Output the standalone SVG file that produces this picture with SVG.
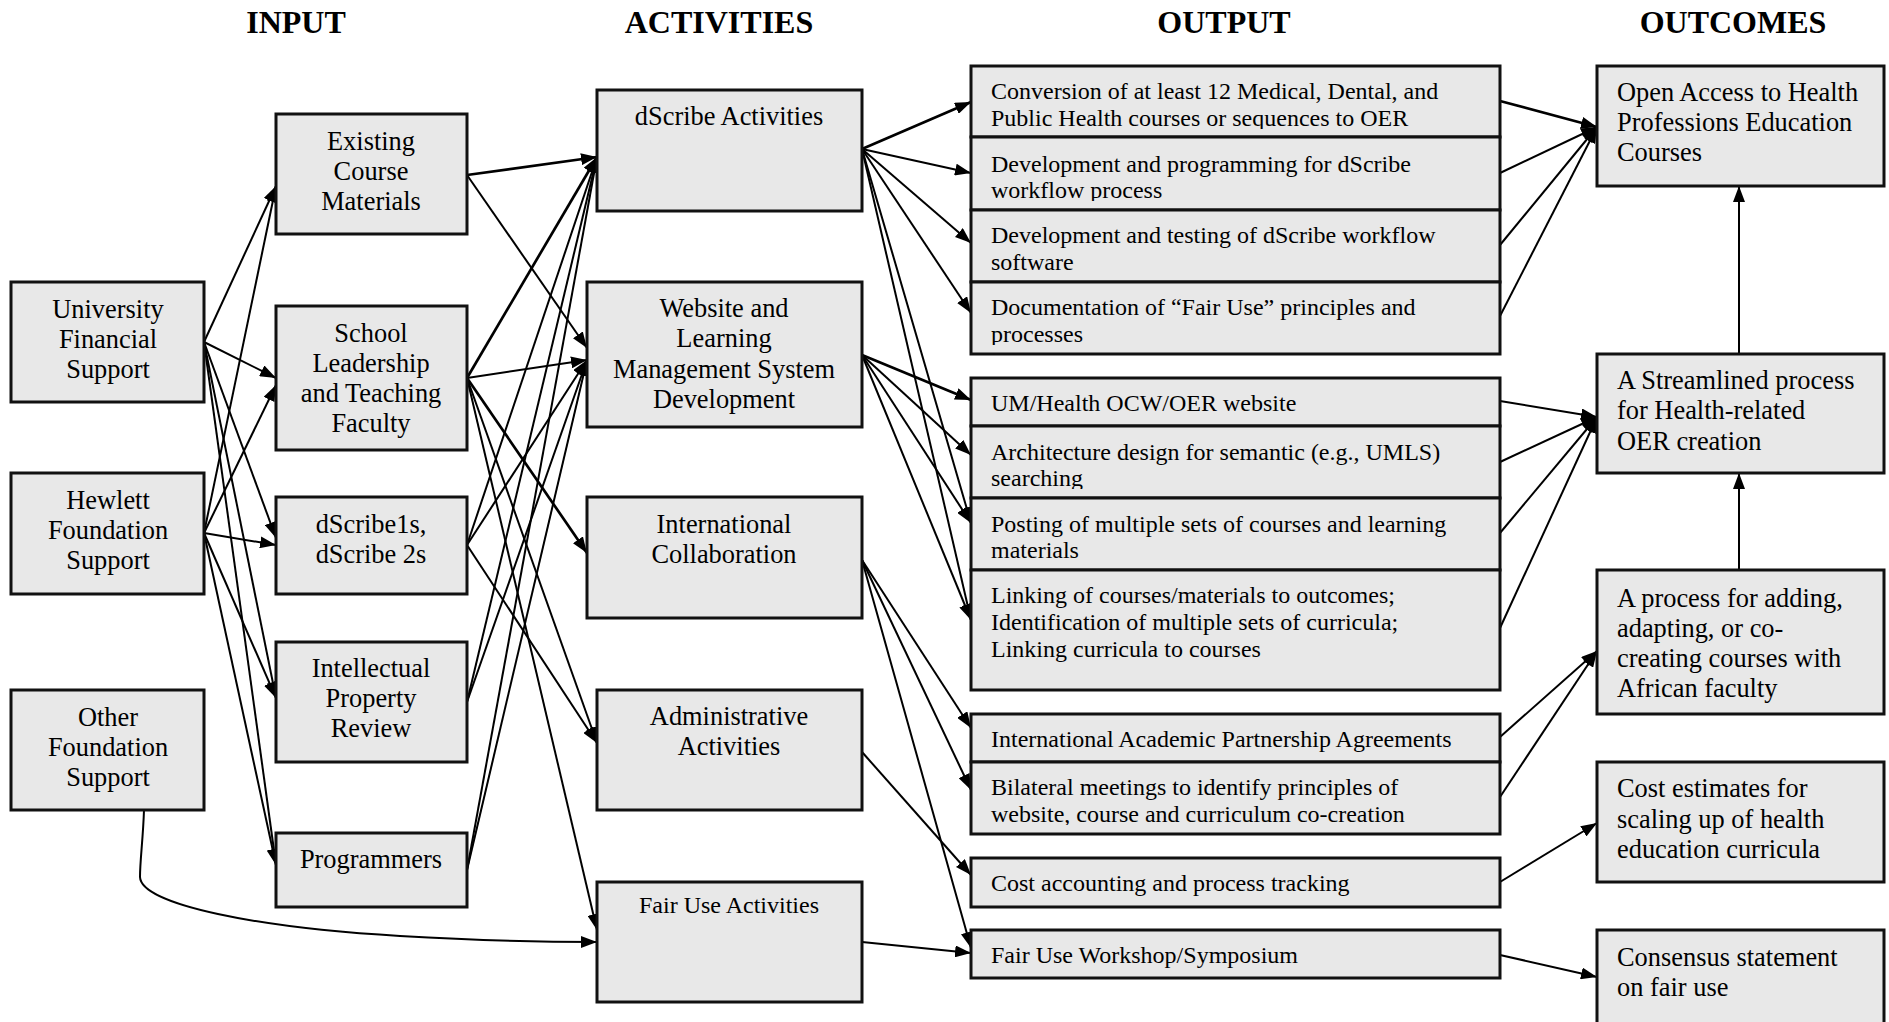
<svg xmlns="http://www.w3.org/2000/svg" width="1889" height="1022" viewBox="0 0 1889 1022">
<style>
.bx{fill:#e8e8e8;stroke:#111;stroke-width:3}
.t{font-family:"Liberation Serif","Times New Roman",serif;font-size:26.4px;fill:#000}
.c{text-anchor:middle}
.s{font-family:"Liberation Serif","Times New Roman",serif;font-size:24px;fill:#000}
.h{font-family:"Liberation Serif","Times New Roman",serif;font-size:32px;font-weight:bold;text-anchor:middle;fill:#000}
.ln{fill:none;stroke:#000;stroke-width:2;marker-end:url(#ah)}
.tk{stroke-width:2.7}
</style>
<defs>
<marker id="ah" markerUnits="userSpaceOnUse" markerWidth="16" markerHeight="12" refX="16" refY="6" orient="auto">
<path d="M0,0 L16,6 L0,12 z" fill="#000"/>
</marker>
<clipPath id="cl1"><rect x="971" y="66" width="529" height="63"/></clipPath>
<clipPath id="cl2"><rect x="971" y="137" width="529" height="64"/></clipPath>
<clipPath id="cl4"><rect x="971" y="282" width="529" height="63"/></clipPath>
<clipPath id="cl6"><rect x="971" y="426" width="529" height="63"/></clipPath>
<clipPath id="cl10"><rect x="971" y="762" width="529" height="63"/></clipPath>
</defs>

<g id="titles">
<text class="h" x="296" y="33">INPUT</text>
<text class="h" x="719" y="33">ACTIVITIES</text>
<text class="h" x="1224" y="33">OUTPUT</text>
<text class="h" x="1733" y="33">OUTCOMES</text>
</g>

<g id="connectors">
<line class="ln" x1="204" y1="342" x2="276" y2="186"/>
<line class="ln" x1="204" y1="342" x2="276" y2="378"/>
<line class="ln" x1="204" y1="342" x2="276" y2="538"/>
<line class="ln" x1="204" y1="342" x2="276" y2="698"/>
<line class="ln" x1="204" y1="342" x2="276" y2="865"/>
<line class="ln" x1="204" y1="533" x2="276" y2="186"/>
<line class="ln" x1="204" y1="533" x2="276" y2="385"/>
<line class="ln" x1="204" y1="533" x2="276" y2="545"/>
<line class="ln" x1="204" y1="533" x2="276" y2="698"/>
<line class="ln" x1="204" y1="533" x2="276" y2="865"/>

<line class="ln tk" x1="467" y1="175" x2="597" y2="157"/>
<line class="ln" x1="467" y1="175" x2="587" y2="348"/>
<line class="ln tk" x1="467" y1="378" x2="597" y2="157"/>
<line class="ln" x1="467" y1="378" x2="587" y2="360"/>
<line class="ln tk" x1="467" y1="378" x2="587" y2="553"/>
<line class="ln" x1="467" y1="378" x2="597" y2="743"/>
<line class="ln" x1="467" y1="378" x2="597" y2="930"/>
<line class="ln" x1="467" y1="545" x2="597" y2="157"/>
<line class="ln" x1="467" y1="545" x2="587" y2="360"/>
<line class="ln" x1="467" y1="545" x2="597" y2="743"/>
<line class="ln" x1="467" y1="702" x2="597" y2="157"/>
<line class="ln" x1="467" y1="702" x2="587" y2="360"/>
<line class="ln" x1="467" y1="870" x2="597" y2="157"/>
<line class="ln" x1="467" y1="870" x2="587" y2="360"/>
<path class="ln" d="M144,810 C143,840 140,860 140,877 C141,905 260,928 400,936 C470,940 540,942 597,942"/>

<line class="ln tk" x1="862" y1="149" x2="971" y2="102"/>
<line class="ln" x1="862" y1="149" x2="971" y2="173"/>
<line class="ln" x1="862" y1="149" x2="971" y2="243"/>
<line class="ln" x1="862" y1="149" x2="971" y2="313"/>
<line class="ln" x1="862" y1="149" x2="971" y2="523"/>
<line class="ln" x1="862" y1="149" x2="971" y2="620"/>
<line class="ln tk" x1="862" y1="355" x2="971" y2="400"/>
<line class="ln" x1="862" y1="355" x2="971" y2="455"/>
<line class="ln" x1="862" y1="355" x2="971" y2="523"/>
<line class="ln" x1="862" y1="355" x2="971" y2="620"/>
<line class="ln" x1="862" y1="560" x2="971" y2="728"/>
<line class="ln" x1="862" y1="560" x2="971" y2="790"/>
<line class="ln" x1="862" y1="560" x2="971" y2="948"/>
<line class="ln" x1="862" y1="752" x2="971" y2="875"/>
<line class="ln" x1="862" y1="942" x2="971" y2="953"/>

<line class="ln tk" x1="1500" y1="101" x2="1597" y2="127"/>
<line class="ln" x1="1500" y1="173" x2="1597" y2="127"/>
<line class="ln" x1="1500" y1="245" x2="1597" y2="127"/>
<line class="ln" x1="1500" y1="316" x2="1597" y2="127"/>
<line class="ln" x1="1500" y1="401" x2="1597" y2="417"/>
<line class="ln" x1="1500" y1="462" x2="1597" y2="417"/>
<line class="ln" x1="1500" y1="533" x2="1597" y2="417"/>
<line class="ln" x1="1500" y1="628" x2="1597" y2="417"/>
<line class="ln" x1="1500" y1="737" x2="1597" y2="651"/>
<line class="ln" x1="1500" y1="797" x2="1597" y2="651"/>
<line class="ln" x1="1500" y1="882" x2="1597" y2="823"/>
<line class="ln" x1="1500" y1="955" x2="1597" y2="977"/>
<line class="ln" x1="1739" y1="354" x2="1739" y2="186"/>
<line class="ln" x1="1739" y1="570" x2="1739" y2="473"/>
</g>

<g id="n-university"><rect class="bx" x="11" y="282" width="193" height="120"/>
<text class="t c" x="108" y="318">University</text><text class="t c" x="108" y="348">Financial</text><text class="t c" x="108" y="378">Support</text></g>
<g id="n-hewlett"><rect class="bx" x="11" y="473" width="193" height="121"/>
<text class="t c" x="108" y="509">Hewlett</text><text class="t c" x="108" y="539">Foundation</text><text class="t c" x="108" y="569">Support</text></g>
<g id="n-other"><rect class="bx" x="11" y="690" width="193" height="120"/>
<text class="t c" x="108" y="726">Other</text><text class="t c" x="108" y="756">Foundation</text><text class="t c" x="108" y="786">Support</text></g>

<g id="n-existing"><rect class="bx" x="276" y="114" width="191" height="120"/>
<text class="t c" x="371" y="150">Existing</text><text class="t c" x="371" y="180">Course</text><text class="t c" x="371" y="210">Materials</text></g>
<g id="n-school"><rect class="bx" x="276" y="306" width="191" height="144"/>
<text class="t c" x="371" y="342">School</text><text class="t c" x="371" y="372">Leadership</text><text class="t c" x="371" y="402">and Teaching</text><text class="t c" x="371" y="432">Faculty</text></g>
<g id="n-dscribe1s"><rect class="bx" x="276" y="497" width="191" height="97"/>
<text class="t c" x="371" y="533">dScribe1s,</text><text class="t c" x="371" y="563">dScribe 2s</text></g>
<g id="n-ip"><rect class="bx" x="276" y="642" width="191" height="120"/>
<text class="t c" x="371" y="677">Intellectual</text><text class="t c" x="371" y="707">Property</text><text class="t c" x="371" y="737">Review</text></g>
<g id="n-programmers"><rect class="bx" x="276" y="833" width="191" height="74"/>
<text class="t c" x="371" y="868">Programmers</text></g>

<g id="n-dscribe-act"><rect class="bx" x="597" y="90" width="265" height="121"/>
<text class="t c" x="729" y="125">dScribe Activities</text></g>
<g id="n-website"><rect class="bx" x="587" y="282" width="275" height="145"/>
<text class="t c" x="724" y="317">Website and</text><text class="t c" x="724" y="347">Learning</text><text class="t c" x="724" y="378">Management System</text><text class="t c" x="724" y="408">Development</text></g>
<g id="n-intl"><rect class="bx" x="587" y="497" width="275" height="121"/>
<text class="t c" x="724" y="533">International</text><text class="t c" x="724" y="563">Collaboration</text></g>
<g id="n-admin"><rect class="bx" x="597" y="690" width="265" height="120"/>
<text class="t c" x="729" y="725">Administrative</text><text class="t c" x="729" y="755">Activities</text></g>
<g id="n-fairuse"><rect class="bx" x="597" y="882" width="265" height="120"/>
<text class="s c" x="729" y="913">Fair Use Activities</text></g>

<g id="o-conversion"><rect class="bx" x="971" y="66" width="529" height="71"/>
<g clip-path="url(#cl1)"><text class="s" x="991" y="99">Conversion of at least 12 Medical, Dental, and</text><text class="s" x="991" y="126">Public Health courses or sequences to OER</text></g></g>
<g id="o-devprog"><rect class="bx" x="971" y="137" width="529" height="73"/>
<g clip-path="url(#cl2)"><text class="s" x="991" y="172">Development and programming for dScribe</text><text class="s" x="991" y="198">workflow process</text></g></g>
<g id="o-devtest"><rect class="bx" x="971" y="210" width="529" height="72"/>
<text class="s" x="991" y="243">Development and testing of dScribe workflow</text><text class="s" x="991" y="270">software</text></g>
<g id="o-doc"><rect class="bx" x="971" y="282" width="529" height="72"/>
<g clip-path="url(#cl4)"><text class="s" x="991" y="315">Documentation of “Fair Use” principles and</text><text class="s" x="991" y="342">processes</text></g></g>
<g id="o-um"><rect class="bx" x="971" y="378" width="529" height="48"/>
<text class="s" x="991" y="411">UM/Health OCW/OER website</text></g>
<g id="o-arch"><rect class="bx" x="971" y="426" width="529" height="72"/>
<g clip-path="url(#cl6)"><text class="s" x="991" y="460">Architecture design for semantic (e.g., UMLS)</text><text class="s" x="991" y="486">searching</text></g></g>
<g id="o-posting"><rect class="bx" x="971" y="498" width="529" height="72"/>
<text class="s" x="991" y="532">Posting of multiple sets of courses and learning</text><text class="s" x="991" y="558">materials</text></g>
<g id="o-linking"><rect class="bx" x="971" y="570" width="529" height="120"/>
<text class="s" x="991" y="603">Linking of courses/materials to outcomes;</text><text class="s" x="991" y="630">Identification of multiple sets of curricula;</text><text class="s" x="991" y="657">Linking curricula to courses</text></g>
<g id="o-iapa"><rect class="bx" x="971" y="714" width="529" height="48"/>
<text class="s" x="991" y="747">International Academic Partnership Agreements</text></g>
<g id="o-bilateral"><rect class="bx" x="971" y="762" width="529" height="72"/>
<g clip-path="url(#cl10)"><text class="s" x="991" y="795">Bilateral meetings to identify principles of</text><text class="s" x="991" y="822">website, course and curriculum co-creation</text></g></g>
<g id="o-cost"><rect class="bx" x="971" y="858" width="529" height="49"/>
<text class="s" x="991" y="891">Cost accounting and process tracking</text></g>
<g id="o-fuw"><rect class="bx" x="971" y="930" width="529" height="48"/>
<text class="s" x="991" y="963">Fair Use Workshop/Symposium</text></g>

<g id="r-openaccess"><rect class="bx" x="1597" y="66" width="287" height="120"/>
<text class="t" x="1617" y="101">Open Access to Health</text><text class="t" x="1617" y="131">Professions Education</text><text class="t" x="1617" y="161">Courses</text></g>
<g id="r-streamlined"><rect class="bx" x="1597" y="354" width="287" height="119"/>
<text class="t" x="1617" y="389">A Streamlined process</text><text class="t" x="1617" y="419">for Health-related</text><text class="t" x="1617" y="450">OER creation</text></g>
<g id="r-process"><rect class="bx" x="1597" y="570" width="287" height="144"/>
<text class="t" x="1617" y="607">A process for adding,</text><text class="t" x="1617" y="637">adapting, or co-</text><text class="t" x="1617" y="667">creating courses with</text><text class="t" x="1617" y="697">African faculty</text></g>
<g id="r-costest"><rect class="bx" x="1597" y="762" width="287" height="120"/>
<text class="t" x="1617" y="797">Cost estimates for</text><text class="t" x="1617" y="828">scaling up of health</text><text class="t" x="1617" y="858">education curricula</text></g>
<g id="r-consensus"><rect class="bx" x="1597" y="930" width="287" height="110"/>
<text class="t" x="1617" y="966">Consensus statement</text><text class="t" x="1617" y="996">on fair use</text></g>
</svg>
